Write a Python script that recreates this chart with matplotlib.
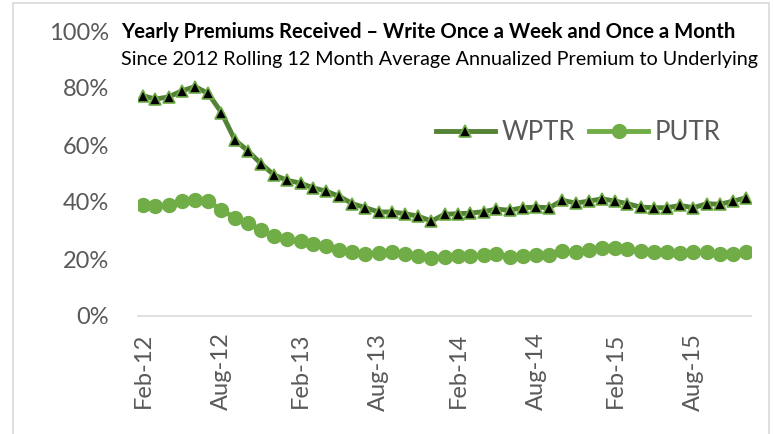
import matplotlib
matplotlib.use("Agg")
import matplotlib.pyplot as plt
import pandas as pd
from matplotlib.patches import Rectangle

# monthly observations, Feb-2012 .. Dec-2015
months = pd.date_range("2012-02-01", periods=47, freq="MS")

wptr = [77.3, 76.1, 76.9, 79.0, 80.5, 78.1, 71.4, 61.8, 58.0, 53.4,
        49.5, 47.6, 46.6, 45.0, 43.8, 42.0, 39.4, 38.0, 36.5, 36.5,
        35.9, 35.0, 33.3, 35.7, 35.9, 36.1, 36.6, 37.5, 37.1, 38.0,
        38.2, 38.0, 40.6, 39.6, 40.3, 41.1, 40.3, 39.4, 38.2, 38.0,
        38.0, 38.8, 38.0, 39.4, 39.2, 40.3, 41.5]

putr = [38.8, 38.5, 38.8, 40.3, 40.8, 40.2, 37.3, 34.4, 32.6, 30.3,
        28.1, 26.9, 26.2, 25.1, 24.5, 23.1, 22.5, 21.9, 22.1, 22.5,
        21.7, 21.1, 20.4, 20.7, 21.1, 21.0, 21.3, 21.9, 20.7, 21.1,
        21.4, 21.3, 22.7, 22.5, 23.1, 23.9, 23.7, 23.4, 22.7, 22.5,
        22.5, 22.1, 22.5, 22.5, 21.9, 21.9, 22.5]

tick_labels = ["Feb-12", "Aug-12", "Feb-13", "Aug-13",
               "Feb-14", "Aug-14", "Feb-15", "Aug-15"]
y_ticks = [0, 20, 40, 60, 80, 100]

font = "Lato"
gray = "#595959"

fig = plt.figure(figsize=(7.73, 4.34), dpi=100)
ax = fig.add_axes([138 / 773, 118 / 434, 613 / 773, 285 / 434])

ax.plot(months, wptr, color="#548235", lw=3.5, marker="^", ms=9,
        mfc="black", mec="#70AD47", mew=1.2, label="WPTR", zorder=3)
ax.plot(months, putr, color="#70AD47", lw=3.5, marker="o", ms=10,
        mfc="#70AD47", mec="#70AD47", label="PUTR", zorder=3)

ax.set_ylim(0, 100)
step = pd.Timedelta(days=30.4 * 0.38)
ax.set_xlim(months[0] - step, months[-1] + step)

ax.set_yticks(y_ticks)
ax.set_yticklabels([f"{v}%" for v in y_ticks], fontsize=17, color=gray,
                   family=font)
ax.set_xticks(months[::6][:len(tick_labels)])
ax.set_xticklabels(tick_labels, rotation=90, fontsize=17, color=gray,
                   family=font)
ax.tick_params(axis="both", length=0)
ax.tick_params(axis="y", pad=21)
ax.tick_params(axis="x", pad=12)

for s in ["top", "right", "left"]:
    ax.spines[s].set_visible(False)
ax.spines["bottom"].set_color("#D9D9D9")
ax.spines["bottom"].set_linewidth(1.2)

leg = ax.legend(loc="center left", bbox_to_anchor=(0.465, 0.6456), ncol=2,
                frameon=False, borderpad=0, handlelength=2.3,
                handletextpad=0.25, columnspacing=0.55,
                prop={"family": font, "size": 18.5})
for t in leg.get_texts():
    t.set_color(gray)

fig.text(121 / 773, 1 - 38 / 434,
         "Yearly Premiums Received \u2013 Write Once a Week and Once a Month",
         fontsize=14.6, fontweight="bold", family=font, va="baseline",
         ha="left", color="black")
fig.text(121 / 773, 1 - 65 / 434,
         "Since 2012 Rolling 12 Month Average Annualized Premium to Underlying",
         fontsize=14.2, family=font, va="baseline", ha="left", color="black")

fig.patches.append(Rectangle((13 / 773, -0.01), (769 - 13) / 773, 1 - 3 / 434 + 0.01,
                             transform=fig.transFigure, fill=False,
                             edgecolor="#D9D9D9", lw=1.2))

fig.savefig("out.png", dpi=100)
